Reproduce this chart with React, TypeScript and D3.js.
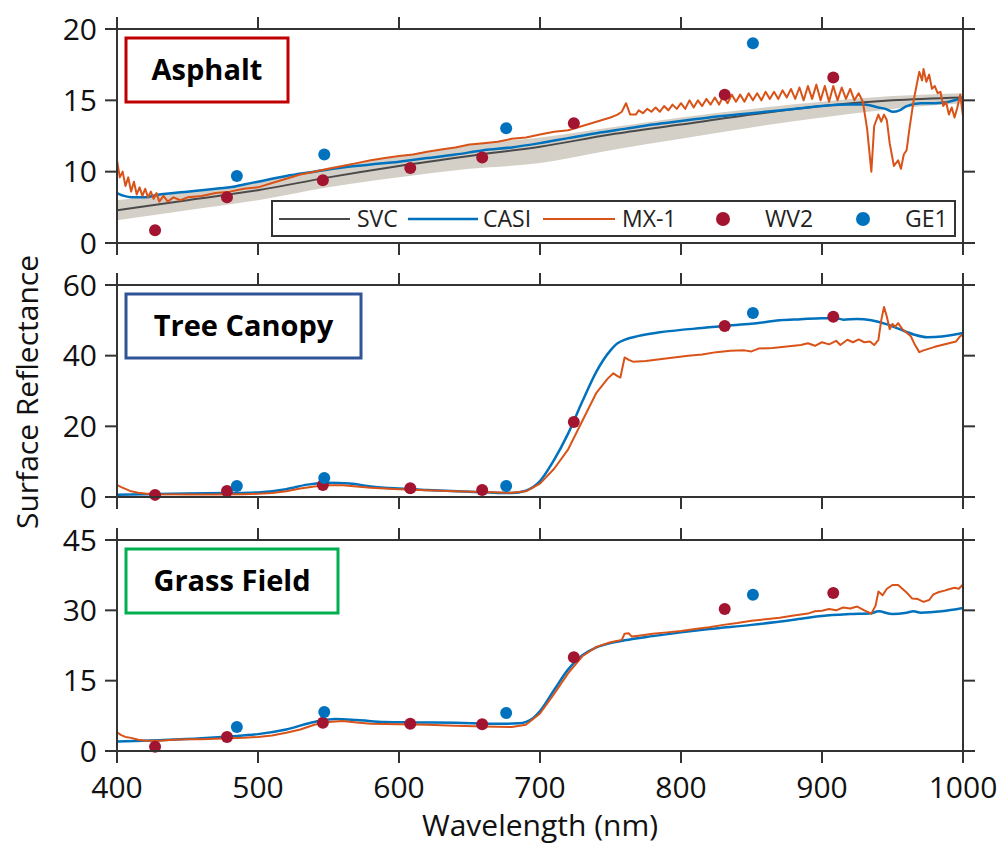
import React from "react";
import * as d3 from "d3";

type Pt = [number, number];

// ---------------- DATA ----------------
const wv2Bands = [427, 478, 546, 608, 659, 724, 831, 908];
const ge1Bands = [485, 547, 676, 851];

// Asphalt
const svcW = [400, 450, 500, 550, 600, 650, 700, 750, 800, 850, 900, 950, 1000];
const svcV = [7.3, 8.0, 8.7, 9.6, 10.4, 11.1, 11.75, 12.6, 13.3, 14.0, 14.6, 15.0, 15.2];
const svcUpper = [8.0, 8.6, 9.3, 10.3, 11.1, 11.9, 12.4, 13.1, 13.8, 14.4, 14.9, 15.3, 15.5];
const svcLower = [6.6, 7.3, 8.0, 8.9, 9.6, 10.2, 10.6, 11.5, 12.3, 13.1, 13.8, 14.4, 14.8];

const casiAsphalt: Pt[] = [
  [400, 8.5], [405, 8.3], [410, 8.2], [420, 8.2], [430, 8.4], [440, 8.5], [450, 8.6], [460, 8.7],
  [470, 8.8], [480, 8.9], [490, 9.1], [500, 9.3], [520, 9.7], [540, 10.0], [560, 10.3], [580, 10.5],
  [600, 10.7], [620, 10.95], [640, 11.2], [660, 11.5], [680, 11.7], [700, 12.0], [720, 12.35], [740, 12.7],
  [760, 13.0], [780, 13.3], [800, 13.55], [820, 13.8], [840, 14.0], [860, 14.2], [880, 14.4], [900, 14.6],
  [920, 14.7], [930, 14.7], [940, 14.5], [945, 14.4], [950, 14.2], [955, 14.3], [960, 14.6], [970, 14.8],
  [980, 14.8], [990, 14.9], [1000, 15.2],
];
const mx1Asphalt: Pt[] = [
  [400, 10.8], [402, 9.6], [404, 10.0], [406, 9.0], [408, 9.6], [410, 8.6], [412, 9.3], [414, 8.4],
  [416, 8.9], [418, 8.3], [420, 8.8], [422, 8.2], [424, 8.6], [426, 8.1], [428, 8.5], [430, 7.9],
  [433, 8.3], [436, 7.9], [440, 8.2], [445, 8.0], [450, 8.2], [460, 8.3], [470, 8.5], [480, 8.6],
  [490, 8.8], [500, 8.9], [510, 9.2], [520, 9.5], [530, 9.8], [540, 10.0], [550, 10.2], [560, 10.4],
  [570, 10.6], [580, 10.8], [590, 10.95], [600, 11.1], [610, 11.2], [620, 11.4], [630, 11.55], [640, 11.7],
  [650, 11.9], [660, 12.0], [670, 12.1], [680, 12.3], [690, 12.4], [700, 12.6], [710, 12.8], [720, 12.9],
  [730, 13.2], [740, 13.5], [750, 13.8], [755, 14.0], [758, 14.2], [761, 14.8], [764, 14.0], [768, 14.0],
  [770, 14.3], [773, 14.1], [776, 14.4], [779, 14.2], [782, 14.5], [785, 14.2], [788, 14.6], [791, 14.3],
  [794, 14.7], [797, 14.4], [800, 14.8], [803, 14.4], [806, 15.0], [809, 14.5], [812, 15.0], [815, 14.6],
  [818, 15.1], [821, 14.7], [824, 15.2], [827, 14.7], [830, 15.3], [833, 14.8], [836, 15.4], [839, 14.9],
  [842, 15.4], [845, 14.9], [848, 15.5], [851, 15.0], [854, 15.5], [857, 15.0], [860, 15.6], [863, 15.1],
  [866, 15.6], [869, 15.1], [872, 15.7], [875, 15.2], [878, 15.8], [881, 15.1], [884, 15.9], [887, 15.0],
  [890, 16.0], [893, 15.1], [896, 16.1], [899, 15.0], [902, 16.0], [905, 14.9], [908, 16.0], [911, 15.0],
  [914, 15.9], [917, 15.1], [920, 15.8], [923, 15.0], [926, 15.5], [929, 14.9], [932, 13.0], [935, 10.0],
  [937, 13.2], [940, 14.0], [942, 13.5], [944, 14.0], [946, 13.6], [948, 12.0], [951, 10.4], [954, 10.8],
  [956, 10.2], [958, 11.2], [960, 11.5], [962, 13.0], [965, 15.0], [967, 16.0], [969, 17.0], [971, 16.4],
  [972, 17.2], [974, 16.3], [976, 16.8], [978, 15.8], [980, 16.0], [982, 15.5], [984, 15.6], [986, 14.6],
  [988, 14.9], [990, 14.0], [992, 14.5], [994, 13.8], [996, 14.5], [998, 15.4], [1000, 13.9],
];
const wv2Asphalt = [5.9, 8.2, 9.4, 10.25, 11.0, 13.4, 15.4, 16.6];
const ge1Asphalt = [9.7, 11.2, 13.05, 19.0];

// Tree canopy
const casiTree: Pt[] = [
  [400, 0.6], [420, 0.8], [450, 1.0], [480, 1.1], [500, 1.3], [520, 2.2], [535, 3.5], [550, 4.0],
  [565, 3.8], [580, 3.0], [600, 2.4], [620, 2.0], [650, 1.5], [680, 1.1], [690, 1.8], [700, 4.5],
  [710, 10.5], [720, 18.0], [730, 27.0], [740, 35.5], [750, 41.5], [755, 43.5], [770, 45.6], [785, 46.6],
  [800, 47.3], [815, 47.8], [830, 48.4], [850, 49.0], [870, 50.0], [885, 50.3], [900, 50.6], [910, 50.6],
  [915, 50.2], [925, 50.4], [935, 50.0], [945, 49.0], [955, 47.5], [965, 46.0], [975, 45.2], [985, 45.4],
  [1000, 46.4],
];
const mx1Tree: Pt[] = [
  [400, 3.4], [403, 2.8], [406, 2.3], [410, 1.6], [415, 1.2], [420, 1.0], [430, 0.8], [450, 0.7],
  [470, 0.7], [490, 0.8], [500, 0.9], [510, 1.1], [520, 1.6], [530, 2.4], [540, 3.0], [550, 3.3],
  [560, 3.3], [570, 3.0], [580, 2.6], [600, 2.2], [620, 1.9], [640, 1.6], [660, 1.4], [680, 1.2],
  [690, 1.6], [700, 3.8], [710, 8.0], [720, 13.5], [730, 21.5], [740, 29.5], [748, 33.5], [752, 35.0],
  [755, 34.2], [757, 33.8], [760, 39.5], [763, 38.8], [766, 38.3], [775, 38.5], [785, 39.0], [795, 39.5],
  [805, 40.0], [815, 40.3], [825, 41.0], [835, 41.4], [845, 41.5], [850, 41.2], [855, 42.0], [865, 42.2],
  [875, 42.6], [885, 43.0], [890, 43.5], [895, 42.8], [900, 43.8], [905, 43.2], [910, 44.2], [913, 43.0],
  [918, 44.5], [922, 43.8], [926, 44.6], [930, 43.8], [934, 44.0], [937, 43.0], [940, 44.5], [942, 50.0],
  [944, 53.8], [946, 51.0], [948, 47.5], [950, 49.0], [952, 48.2], [954, 49.2], [957, 47.5], [960, 46.5],
  [963, 45.5], [966, 43.0], [969, 41.0], [972, 41.5], [976, 42.0], [980, 42.5], [985, 43.0], [990, 43.5],
  [995, 44.0], [998, 45.5], [1000, 46.0],
];
const wv2Tree = [0.6, 1.7, 3.4, 2.5, 2.0, 21.2, 48.4, 51.0];
const ge1Tree = [3.1, 5.4, 3.1, 52.1];

// Grass field
const casiGrass: Pt[] = [
  [400, 2.0], [430, 2.3], [460, 2.7], [480, 3.1], [500, 3.6], [520, 4.6], [540, 6.2], [555, 6.8],
  [570, 6.6], [590, 6.2], [610, 6.1], [640, 6.0], [670, 5.8], [685, 5.9], [695, 7.0], [700, 8.5],
  [710, 13.0], [720, 17.4], [730, 20.4], [740, 22.1], [750, 23.0], [760, 23.6], [780, 24.5], [800, 25.3],
  [820, 26.0], [850, 26.9], [880, 28.0], [900, 28.8], [920, 29.2], [935, 29.4], [940, 29.8], [950, 29.2],
  [960, 29.5], [965, 29.8], [970, 29.5], [985, 29.8], [1000, 30.5],
];
const mx1Grass: Pt[] = [
  [400, 4.0], [403, 3.4], [406, 3.0], [410, 2.8], [415, 2.4], [420, 2.2], [430, 2.2], [440, 2.4],
  [450, 2.5], [460, 2.5], [470, 2.6], [480, 2.7], [490, 2.8], [500, 3.0], [510, 3.3], [520, 3.9],
  [530, 4.6], [540, 5.6], [550, 6.2], [560, 6.4], [570, 6.1], [580, 5.8], [600, 5.7], [620, 5.6],
  [640, 5.4], [660, 5.2], [680, 5.1], [690, 5.6], [700, 8.0], [710, 12.2], [720, 16.6], [730, 20.2],
  [740, 22.2], [750, 23.2], [758, 23.7], [760, 25.0], [763, 25.1], [765, 24.4], [770, 24.6], [780, 25.0],
  [790, 25.3], [800, 25.6], [810, 26.0], [820, 26.4], [830, 26.9], [840, 27.3], [850, 27.8], [860, 28.1],
  [870, 28.4], [880, 28.9], [890, 29.3], [895, 29.8], [900, 29.9], [905, 30.3], [910, 30.0], [915, 30.6],
  [920, 30.4], [925, 30.8], [930, 30.0], [935, 29.3], [938, 31.0], [940, 34.0], [943, 33.2], [946, 34.6],
  [950, 35.4], [954, 35.4], [957, 34.6], [960, 33.8], [964, 32.5], [968, 32.4], [972, 31.8], [976, 32.2],
  [979, 33.4], [983, 33.9], [987, 34.2], [990, 34.5], [994, 34.8], [997, 34.6], [1000, 35.5],
];
const wv2Grass = [0.9, 3.0, 6.0, 5.8, 5.7, 20.0, 30.3, 33.7];
const ge1Grass = [5.1, 8.3, 8.1, 33.3];

// Axes
const xTicks = [400, 500, 600, 700, 800, 900, 1000];
const asphaltTicks = [5, 10, 15, 20];
const asphaltTickLabels = ["0", "10", "15", "20"];
const treeTicks = [0, 20, 40, 60];
const grassTicks = [0, 15, 30, 45];
const legendLabels = ["SVC", "CASI", "MX-1", "WV2", "GE1"];

// ---------------- STYLE / LAYOUT ----------------
const C = {
  svc: "#4a4a4a",
  band: "#d5d0c7",
  casi: "#0072bd",
  mx1: "#d95319",
  wv2: "#a2142f",
  ge1: "#0072bd",
  axis: "#333333",
};
const FONT = "'Open Sans', 'Liberation Sans', sans-serif";
const left = 117;
const right = 963;
const tickLen = 12;

interface Panel {
  id: string;
  title: string;
  color: string;
  top: number;
  bottom: number;
  domain: [number, number];
  ticks: number[];
  labels: string[];
  boxW: number;
  casi: Pt[];
  mx1: Pt[];
  wv2: number[];
  ge1: number[];
  svc?: boolean;
}

const panels: Panel[] = [
  {
    id: "a", title: "Asphalt", color: "#c00000", top: 29, bottom: 243, domain: [5, 20],
    ticks: asphaltTicks, labels: asphaltTickLabels, boxW: 162,
    casi: casiAsphalt, mx1: mx1Asphalt, wv2: wv2Asphalt, ge1: ge1Asphalt, svc: true,
  },
  {
    id: "t", title: "Tree Canopy", color: "#2f5597", top: 285, bottom: 497, domain: [0, 60],
    ticks: treeTicks, labels: treeTicks.map(String), boxW: 235,
    casi: casiTree, mx1: mx1Tree, wv2: wv2Tree, ge1: ge1Tree,
  },
  {
    id: "g", title: "Grass Field", color: "#00b050", top: 540, bottom: 751, domain: [0, 45],
    ticks: grassTicks, labels: grassTicks.map(String), boxW: 212,
    casi: casiGrass, mx1: mx1Grass, wv2: wv2Grass, ge1: ge1Grass,
  },
];

const x = d3.scaleLinear().domain([400, 1000]).range([left, right]);

function PanelView({ p, isLast }: { p: Panel; isLast: boolean }) {
  const y = d3.scaleLinear().domain(p.domain).range([p.bottom, p.top]);
  const svcPts: Pt[] = svcW.map((w, i) => [w, svcV[i]]);
  const smooth = d3.line<Pt>().x((d) => x(d[0])).y((d) => y(d[1])).curve(d3.curveMonotoneX);
  const raw = d3.line<Pt>().x((d) => x(d[0])).y((d) => y(d[1]));
  const area = d3
    .area<number>()
    .x((_, i) => x(svcW[i]))
    .y0((_, i) => y(svcLower[i]))
    .y1((_, i) => y(svcUpper[i]))
    .curve(d3.curveMonotoneX);
  const clipId = `clip-${p.id}`;
  return (
    <g>
      <defs>
        <clipPath id={clipId}>
          <rect x={left} y={p.top} width={right - left} height={p.bottom - p.top} />
        </clipPath>
      </defs>
      <g clipPath={`url(#${clipId})`}>
        {p.svc && (
          <>
            <path d={area(svcW) || ""} fill={C.band} />
            <path d={smooth(svcPts) || ""} fill="none" stroke={C.svc} strokeWidth={2} />
          </>
        )}
        <path d={smooth(p.casi) || ""} fill="none" stroke={C.casi} strokeWidth={2.5} />
        <path d={raw(p.mx1) || ""} fill="none" stroke={C.mx1} strokeWidth={2} strokeLinejoin="round" />
      </g>
      {wv2Bands.map((w, i) => (
        <circle key={"w" + i} cx={x(w)} cy={y(p.wv2[i])} r={6} fill={C.wv2} />
      ))}
      {ge1Bands.map((w, i) => (
        <circle key={"g" + i} cx={x(w)} cy={y(p.ge1[i])} r={6} fill={C.ge1} />
      ))}
      <rect x={left} y={p.top} width={right - left} height={p.bottom - p.top} fill="none" stroke={C.axis} strokeWidth={2} />
      {xTicks.map((t) => (
        <g key={"xt" + t}>
          <line x1={x(t)} x2={x(t)} y1={p.top} y2={p.top - tickLen} stroke={C.axis} strokeWidth={2} />
          <line x1={x(t)} x2={x(t)} y1={p.bottom} y2={p.bottom + tickLen} stroke={C.axis} strokeWidth={2} />
        </g>
      ))}
      {p.ticks.map((t, i) => (
        <g key={"yt" + t}>
          <line x1={left} x2={left - tickLen} y1={y(t)} y2={y(t)} stroke={C.axis} strokeWidth={2} />
          <line x1={right} x2={right + tickLen} y1={y(t)} y2={y(t)} stroke={C.axis} strokeWidth={2} />
          <text x={left - 20} y={y(t)} dy="0.36em" textAnchor="end" fontSize={30} fontFamily={FONT} fill="#111">
            {p.labels[i]}
          </text>
        </g>
      ))}
      {isLast &&
        xTicks.map((t) => (
          <text key={"xl" + t} x={x(t)} y={798} textAnchor="middle" fontSize={30} fontFamily={FONT} fill="#111">
            {t}
          </text>
        ))}
      <rect x={126} y={p.top + 9} width={p.boxW} height={64} fill="#fff" stroke={p.color} strokeWidth={3} />
      <text x={126 + p.boxW / 2} y={p.top + 41} dy="0.36em" textAnchor="middle" fontSize={29} fontWeight="bold"
        fontFamily={FONT} fill="#000">
        {p.title}
      </text>
    </g>
  );
}

function Legend() {
  const ly = 219;
  return (
    <g fontFamily={FONT} fontSize={23} fill="#222">
      <rect x={272} y={201} width={683} height={35} fill="#fff" stroke={C.axis} strokeWidth={2} />
      <line x1={279} x2={350} y1={ly} y2={ly} stroke={C.svc} strokeWidth={2} />
      <text x={357} y={ly} dy="0.36em">{legendLabels[0]}</text>
      <line x1={408} x2={478} y1={ly} y2={ly} stroke={C.casi} strokeWidth={2.5} />
      <text x={483} y={ly} dy="0.36em">{legendLabels[1]}</text>
      <line x1={543} x2={615} y1={ly} y2={ly} stroke={C.mx1} strokeWidth={2} />
      <text x={622} y={ly} dy="0.36em">{legendLabels[2]}</text>
      <circle cx={723} cy={ly} r={7} fill={C.wv2} />
      <text x={765} y={ly} dy="0.36em">{legendLabels[3]}</text>
      <circle cx={863} cy={ly} r={7} fill={C.ge1} />
      <text x={905} y={ly} dy="0.36em">{legendLabels[4]}</text>
    </g>
  );
}

export default function App() {
  return (
    <svg width={1003} height={846} style={{ position: "absolute", left: 0, top: 0, background: "#fff" }}>
      <rect width={1003} height={846} fill="#fff" />
      {panels.map((p, i) => (
        <PanelView key={p.id} p={p} isLast={i === panels.length - 1} />
      ))}
      <Legend />
      <text x={(left + right) / 2} y={836} textAnchor="middle" fontSize={30} fontFamily={FONT} fill="#111">
        Wavelength (nm)
      </text>
      <text transform="translate(38,392) rotate(-90)" textAnchor="middle" fontSize={30} fontFamily={FONT} fill="#111">
        Surface Reflectance
      </text>
    </svg>
  );
}
